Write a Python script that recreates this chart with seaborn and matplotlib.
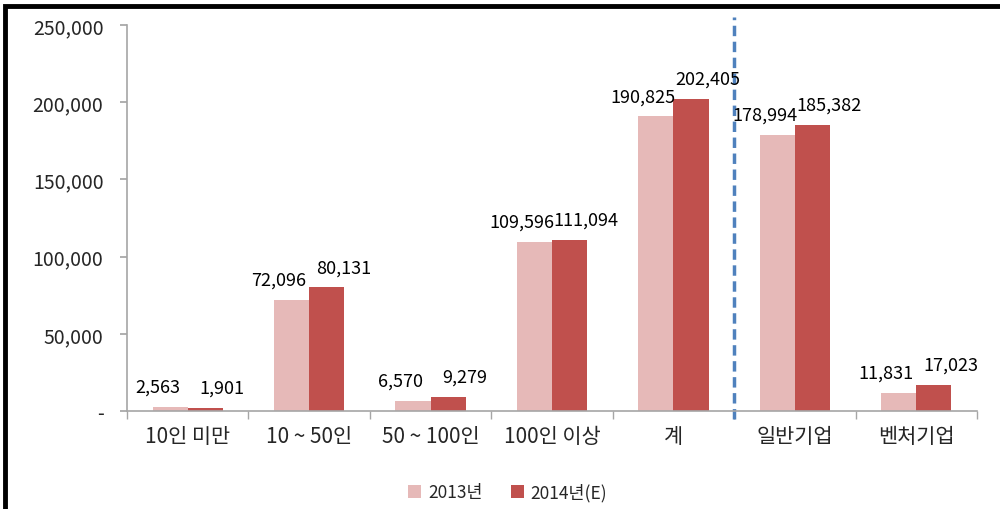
import matplotlib
matplotlib.use("Agg")
import matplotlib.pyplot as plt
import matplotlib.ticker as mticker
from matplotlib.patches import Rectangle
import seaborn as sns
import pandas as pd

categories = ["10인 미만", "10 ~ 50인", "50 ~ 100인", "100인 이상", "계", "일반기업", "벤처기업"]
series_names = ["2013년", "2014년(E)"]
values_2013 = [2563, 72096, 6570, 109596, 190825, 178994, 11831]
values_2014 = [1901, 80131, 9279, 111094, 202405, 185382, 17023]
y_ticks = [0, 50000, 100000, 150000, 200000, 250000]

colors = ["#E6B9B8", "#C0504D"]

rows = []
for c, a, b in zip(categories, values_2013, values_2014):
    rows.append({"cat": c, "year": series_names[0], "val": a})
    rows.append({"cat": c, "year": series_names[1], "val": b})
df = pd.DataFrame(rows)

sns.set_theme(style="white")
plt.rcParams["font.family"] = ["Noto Sans CJK KR", "DejaVu Sans"]

fig = plt.figure(figsize=(10, 5.1), dpi=100)
ax = fig.add_axes([0.127, 0.192, 0.85, 0.757])

sns.barplot(data=df, x="cat", y="val", hue="year", palette=colors,
            order=categories, hue_order=series_names, width=0.58,
            saturation=1, linewidth=0, ax=ax, legend=True)

ax.set_ylim(0, 250000)
ax.set_xlim(-0.5, len(categories) - 0.5)
ax.set_yticks(y_ticks)
ax.yaxis.set_major_formatter(mticker.FuncFormatter(lambda v, p: "-" if v == 0 else f"{int(v):,}"))
ax.tick_params(axis="y", which="major", length=5, color="#A6A6A6", direction="out",
               labelsize=14, pad=12, left=True)
ax.tick_params(axis="x", which="major", length=0, labelsize=15, pad=10)
ax.set_xticks([i - 0.5 for i in range(len(categories) + 1)], minor=True)
ax.tick_params(axis="x", which="minor", length=6, color="#A6A6A6", direction="out", bottom=True)
ax.set_xlabel("")
ax.set_ylabel("")
for side in ["top", "right"]:
    ax.spines[side].set_visible(False)
for side in ["left", "bottom"]:
    ax.spines[side].set_color("#A6A6A6")
    ax.spines[side].set_linewidth(1.2)

x_shift_pts = [-9, 12]
for cont, dx in zip(ax.containers, x_shift_pts):
    for bar, v in zip(cont, cont.datavalues):
        ax.annotate(f"{int(v):,}", (bar.get_x() + bar.get_width() / 2, bar.get_height()),
                    xytext=(dx, 8), textcoords="offset points", ha="center", va="bottom",
                    fontsize=13, color="black")

ax.axvline(4.5, ymin=-0.02, ymax=1.02, color="#4F81BD", linestyle=(0, (3, 1.6)), linewidth=2.5, clip_on=False)

handles, labels = ax.get_legend_handles_labels()
ax.legend(handles, labels, loc="center", bbox_to_anchor=(0.448, -0.21), ncol=2, frameon=False,
          fontsize=12.5, handlelength=0.75, handleheight=0.75, columnspacing=1.6, handletextpad=0.4)

fig.patches.append(Rectangle((0.005, -0.5), 2.0, 0.5 + 0.986, transform=fig.transFigure,
                             fill=False, edgecolor="black", linewidth=3.5, figure=fig))

fig.savefig("out.png", dpi=100)
